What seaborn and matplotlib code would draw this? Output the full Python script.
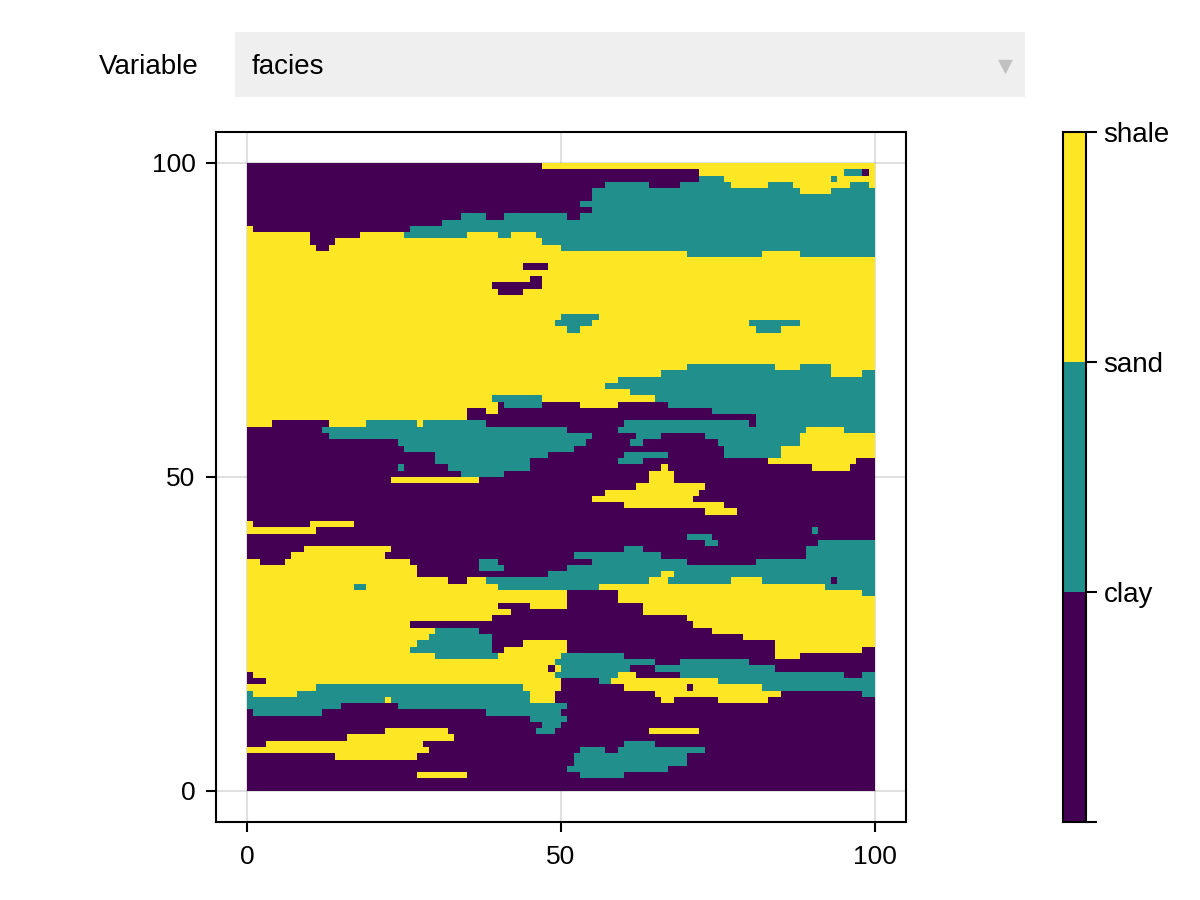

import numpy as np
import matplotlib
matplotlib.use("Agg")
import matplotlib.pyplot as plt
from matplotlib.colors import ListedColormap
from matplotlib.patches import Rectangle
from matplotlib.transforms import Affine2D
import seaborn as sns

# ======================================================
# 1. DATA
# ======================================================
facies_names = ["clay", "sand", "shale"]
facies_colors = ["#440154", "#21908c", "#fde725"]
axis_ticks = [0, 50, 100]
widget_label = "Variable"
widget_value = "facies"

# one string per grid row, top row (y=99) first
# c/t/y = clay/sand/shale, the number is the column where that run stops
facies_rows = [
    "c47 y100",
    "c72 y95 t98 c99 y100",
    "c72 t76 y93 t94 y100",
    "c57 t64 c69 t77 y83 t87 y96 t99 y100",
    "c55 t88 y93 t100",
    "c55 t100",
    "c53 t100",
    "c55 t100",
    "c34 t38 c41 t51 c53 t100",
    "c31 t100",
    "y1 c26 t100",
    "y10 c18 y25 t35 y40 t42 y46 t100",
    "y10 c14 y47 t100",
    "y11 c13 y50 t100",
    "y70 t82 y88 t100",
    "y100",
    "y44 c48 y100",
    "y100",
    "y45 c47 y100",
    "y39 c47 y100",
    "y40 c44 y100",
    "y100",
    "y100",
    "y100",
    "y50 t56 y100",
    "y49 t55 y80 t88 y100",
    "y51 t53 y81 t85 y100",
    "y100",
    "y100",
    "y100",
    "y100",
    "y100",
    "y70 t84 y88 t93 y100",
    "y66 t93 y98 t100",
    "y59 t100",
    "y57 t100",
    "y61 t100",
    "y39 t47 y65 t100",
    "y40 c41 t47 c53 y59 c67 t100",
    "y35 c38 y40 c74 t100",
    "y35 c81 t100",
    "y4 c13 y19 t27 y28 t38 c60 t80 c81 t100",
    "c12 t51 c59 t89 y95 t100",
    "c13 t55 c62 t66 c73 t88 y100",
    "c24 t54 c61 t63 c75 t88 y100",
    "c25 t52 c76 t85 y100",
    "c30 t48 c60 t67 c76 t85 y100",
    "c30 t45 c59 t63 c83 y97 c100",
    "c24 t25 c32 t45 c66 y67 c90 y96 c100",
    "c34 t41 c64 y68 c100",
    "c23 y37 c64 y68 c100",
    "c62 y73 c100",
    "c57 y72 c100",
    "c55 y71 c100",
    "c60 y76 c100",
    "c73 y78 c100",
    "c100",
    "y1 c10 y17 c100",
    "y11 c90 t91 c100",
    "c70 t74 c100",
    "c73 t75 c91 t100",
    "c9 y23 c60 t63 c89 t100",
    "c7 y22 c52 t66 c89 t100",
    "y2 c6 y26 c37 t40 c55 t70 c81 t100",
    "y27 c37 t41 c51 t100",
    "y27 c48 t66 y68 t100",
    "y32 c35 y38 t64 y67 t77 y82 t93 c94 t100",
    "y17 t19 y40 t56 y92 t100",
    "y51 c59 y98 t100",
    "y51 c59 y100",
    "y40 c45 y51 c63 y100",
    "y42 c63 y100",
    "y39 c70 y100",
    "y26 c71 y100",
    "y30 t37 c74 y100",
    "y29 t39 c79 y100",
    "y27 t39 c44 y51 c84 y100",
    "y26 t39 c41 y51 c84 y98 c100",
    "y30 t40 y50 t60 c84 y88 c100",
    "y49 t65 c69 t80 c100",
    "y48 c49 y50 t61 c65 t84 c100",
    "c1 y49 t59 y62 c69 t95 c98 t100",
    "c3 y50 c56 t58 y75 t100",
    "y11 t44 y50 c60 y70 c71 y82 t100",
    "t1 y8 t45 y49 c65 y85 c98 t100",
    "t22 y23 t45 y49 c66 y68 c75 y83 c100",
    "t15 c24 t51 c100",
    "c1 t12 c38 t50 c100",
    "c45 t51 c100",
    "c47 t50 c100",
    "c22 y32 c46 t49 c64 y72 c100",
    "c16 y33 c100",
    "c3 y28 c60 t65 c100",
    "y29 c53 t57 c59 t73 c100",
    "c14 y27 c52 t70 c100",
    "c52 t70 c100",
    "c51 t67 c100",
    "c27 y35 c53 t60 c100",
    "c100",
    "c100",
]

codes = {"c": 0, "t": 1, "y": 2}


def decode_row(row):
    out = []
    for run in row.split():
        out += [codes[run[0]]] * (int(run[1:]) - len(out))
    return out


# bottom row first, so that grid row i sits at y=i
grid = np.array([decode_row(r) for r in facies_rows])[::-1]

# ======================================================
# 2. FIGURE
# ======================================================
sns.set_style("white")
plt.rcParams["font.family"] = ["Liberation Sans", "DejaVu Sans"]
FS = 20
TICK_FS = 19
W, H = 1200, 900

fig = plt.figure(figsize=(12, 9), dpi=100)


def px_axes(left, top, right, bottom):
    return fig.add_axes([left / W, 1 - bottom / H, (right - left) / W, (bottom - top) / H])


def nudge_down(labels, pixels):
    for lab in labels:
        lab.set_transform(lab.get_transform() + Affine2D().translate(0, -pixels))


cmap = ListedColormap(facies_colors)

# ======================================================
# 3. MAIN HEATMAP
# ======================================================
ax = px_axes(215.6, 131.6, 906.4, 822.4)
sns.heatmap(grid, ax=ax, cmap=cmap, vmin=-0.5, vmax=2.5, cbar=False, square=False)
ax.set_xlim(-5, 105)
ax.set_ylim(-5, 105)
ax.set_xticks(axis_ticks)
ax.set_xticklabels([str(t) for t in axis_ticks], rotation=0)
ax.set_yticks(axis_ticks)
ax.set_yticklabels([str(t) for t in axis_ticks], rotation=0)
ax.set_axisbelow(True)
ax.grid(True, color="black", alpha=0.12, linewidth=1.5)
for s in ax.spines.values():
    s.set_visible(True)
    s.set_color("black")
    s.set_linewidth(1.5)
ax.tick_params(axis="x", length=7.5, width=1.5, color="black", labelsize=TICK_FS,
               labelcolor="black", pad=9, bottom=True)
ax.tick_params(axis="y", length=7.5, width=1.5, color="black", labelsize=TICK_FS,
               labelcolor="black", pad=7, left=True)
nudge_down(ax.get_yticklabels(), 2)

# ======================================================
# 4. DISCRETE COLOUR BAR
# ======================================================
cax = px_axes(1062.5, 131.6, 1085.5, 822.4)
levels = np.arange(len(facies_names))[::-1].reshape(-1, 1)
sns.heatmap(levels, ax=cax, cmap=cmap, vmin=-0.5, vmax=2.5, cbar=False,
            xticklabels=False, yticklabels=False)
cax.yaxis.tick_right()
cax.set_yticks(range(len(facies_names) + 1))
cax.set_yticklabels(facies_names[::-1] + [""], rotation=0, va="center")
cax.set_xticks([])
for s in cax.spines.values():
    s.set_visible(True)
    s.set_color("black")
    s.set_linewidth(1.5)
cax.tick_params(axis="y", right=True, left=False, length=8, width=1.5, color="black",
                labelsize=FS, labelcolor="black", pad=5)
nudge_down(cax.get_yticklabels(), 3)

# ======================================================
# 5. MENU WIDGET ABOVE THE PLOT
# ======================================================
fig.add_artist(Rectangle((235 / W, 1 - 96.7 / H), 790 / W, 64.4 / H,
                         transform=fig.transFigure, facecolor="#efefef", edgecolor="none"))
fig.text(199 / W, 1 - 67 / H, widget_label, ha="right", va="center", fontsize=FS, color="black")
fig.text(252 / W, 1 - 67 / H, widget_value, ha="left", va="center", fontsize=FS, color="black")
fig.text(1005 / W, 1 - 66 / H, "\u25bc", ha="center", va="center", fontsize=14,
         color="#c2c2c2", family="DejaVu Sans")

fig.savefig("out.png", dpi=100)
